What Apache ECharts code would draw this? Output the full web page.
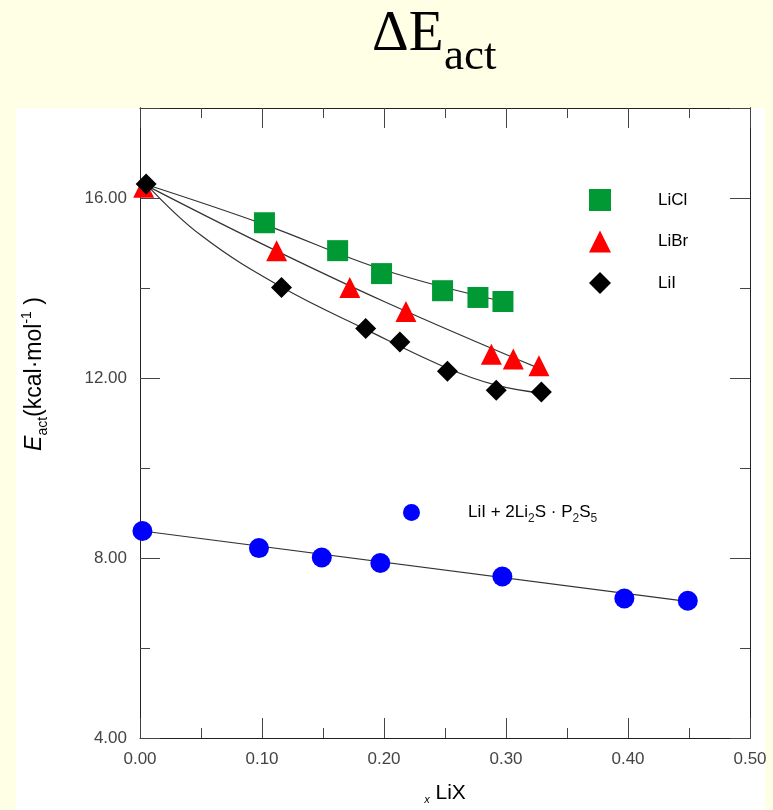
<!DOCTYPE html>
<html>
<head>
<meta charset="utf-8">
<script src="https://cdn.jsdelivr.net/npm/echarts@6/dist/echarts.min.js"></script>
<style>
  html, body { margin: 0; padding: 0; background: #FFFFE6; }
  #chart { width: 773px; height: 810px; }
</style>
</head>
<body>
<div id="chart"></div>
<script>
// measured points [x LiX, Eact kcal/mol]
const liclPoints = [[0.102, 15.45], [0.162, 14.83], [0.198, 14.32], [0.248, 13.94], [0.277, 13.79], [0.2975, 13.70]];
const librPoints = [[0.003, 16.24], [0.112, 14.83], [0.172, 14.01], [0.218, 13.48], [0.288, 12.53], [0.306, 12.42], [0.327, 12.27]];
const liiPoints = [[0.005, 16.31], [0.116, 14.01], [0.185, 13.10], [0.213, 12.80], [0.252, 12.15], [0.292, 11.73], [0.329, 11.69]];
const glassPoints = [[0.002, 8.60], [0.0975, 8.22], [0.149, 8.01], [0.197, 7.89], [0.297, 7.59], [0.397, 7.10], [0.449, 7.05]];

// fitted curves
const liclFit = [[0.005, 16.30], [0.10, 15.43], [0.20, 14.40], [0.2975, 13.70]];
const librFit = [[0.005, 16.28], [0.10, 14.98], [0.20, 13.70], [0.33, 12.18]];
const liiFit = [[0.005, 16.31], [0.05, 15.17], [0.116, 14.02], [0.185, 13.08], [0.25, 12.24], [0.292, 11.84], [0.33, 11.66]];
const glassFit = [[0.002, 8.60], [0.45, 7.03]];

const seriesNames = ['LiCl', 'LiBr', 'LiI', 'LiI + 2Li2S·P2S5'];
const seriesColors = ['#009933', '#FF0000', '#000000', '#0000FF'];
const seriesSymbols = ['rect', 'triangle', 'diamond', 'circle'];

const xTicks = { min: 0, max: 0.5, interval: 0.1 };
const yTicks = { min: 4, max: 18, minor: 2, major: 4 };

const chart = echarts.init(document.getElementById('chart'));

const axisColor = '#222';
const labelColor = '#444';
const sans = '"Liberation Sans", Arial, sans-serif';
const serif = '"Liberation Serif", "Times New Roman", serif';

function yAxisOf(position, interval, tickLen, showLabel) {
  return {
    type: 'value',
    position: position,
    min: yTicks.min,
    max: yTicks.max,
    interval: interval,
    splitLine: { show: false },
    axisLine: { show: true, lineStyle: { color: axisColor, width: 1 } },
    axisTick: { show: true, inside: true, length: tickLen, lineStyle: { color: '#444' } },
    axisLabel: {
      show: showLabel,
      margin: 13,
      color: labelColor,
      fontFamily: sans,
      fontSize: 17,
      formatter: function (v) { return (v % 4 === 0 && v < 18) ? v.toFixed(2) : ''; }
    }
  };
}

function xAxisOf(position, showLabel) {
  return {
    type: 'value',
    position: position,
    min: xTicks.min,
    max: xTicks.max,
    interval: xTicks.interval,
    splitLine: { show: false },
    axisLine: { show: true, lineStyle: { color: axisColor, width: 1 } },
    axisTick: { show: true, inside: true, length: 20, lineStyle: { color: '#444' } },
    minorTick: { show: true, splitNumber: 2, length: 10, lineStyle: { color: '#444' } },
    axisLabel: {
      show: showLabel,
      margin: 13,
      color: labelColor,
      fontFamily: sans,
      fontSize: 17,
      formatter: function (v) { return v.toFixed(2); }
    }
  };
}

const xBottom = xAxisOf('bottom', true);
xBottom.name = '{s|x}{t| LiX}';
xBottom.nameLocation = 'middle';
xBottom.nameGap = 43;
xBottom.nameTextStyle = {
  rich: {
    s: { fontFamily: sans, fontSize: 11, fontStyle: 'italic', color: '#000', verticalAlign: 'bottom', lineHeight: 24 },
    t: { fontFamily: sans, fontSize: 21, color: '#000', lineHeight: 24 }
  }
};

const fitLine = function (data) {
  return {
    type: 'line',
    data: data,
    smooth: 0.4,
    symbol: 'none',
    silent: true,
    z: 1,
    lineStyle: { color: '#333', width: 1.2 }
  };
};

const pointSeries = function (i, data, size) {
  return {
    name: seriesNames[i],
    type: 'scatter',
    data: data,
    symbol: seriesSymbols[i],
    symbolSize: size,
    itemStyle: { color: seriesColors[i], opacity: 1 },
    z: 3
  };
};

const richLegend = {
  g: { width: 42 },
  g2: { width: 43 },
  t: { fontFamily: sans, fontSize: 17, color: '#000', lineHeight: 24 },
  b: { fontFamily: sans, fontSize: 12, color: '#222', verticalAlign: 'bottom', lineHeight: 24 }
};

const option = {
  backgroundColor: '#FFFFE6',
  animation: false,
  grid: { left: 140, right: 23, top: 108, bottom: 68 },
  graphic: [
    { type: 'rect', z: -100, shape: { x: 16, y: 108, width: 749, height: 702 }, style: { fill: '#FFFFFF' } },
    { type: 'text', left: 372, top: 7, style: { text: 'ΔE', font: '57px ' + serif, fill: '#000' } },
    { type: 'text', left: 444, top: 35, style: { text: 'act', font: '45px ' + serif, fill: '#000' } },
    {
      type: 'text',
      x: 35,
      y: 374,
      rotation: Math.PI / 2,
      style: {
        text: '{e|E}{s|act}{t|(kcal·mol}{p|-1}{t| )}',
        align: 'center',
        verticalAlign: 'middle',
        rich: {
          e: { fontFamily: sans, fontSize: 23, fontStyle: 'italic', fill: '#000', lineHeight: 30 },
          s: { fontFamily: sans, fontSize: 14, fill: '#000', verticalAlign: 'bottom', lineHeight: 30 },
          t: { fontFamily: sans, fontSize: 23, fill: '#000', lineHeight: 30 },
          p: { fontFamily: sans, fontSize: 14, fill: '#000', verticalAlign: 'top', lineHeight: 20 }
        }
      }
    }
  ],
  legend: [
    {
      data: seriesNames.slice(0, 3),
      orient: 'vertical',
      left: 584,
      top: 184,
      itemWidth: 22,
      itemHeight: 22,
      itemGap: 19.5,
      selectedMode: false,
      formatter: function (name) { return '{g|}{t|' + name + '}'; },
      textStyle: { rich: richLegend }
    },
    {
      data: [seriesNames[3]],
      left: 398,
      top: 499,
      itemWidth: 17,
      itemHeight: 17,
      selectedMode: false,
      formatter: function () {
        return '{g2|}{t|LiI + 2Li}{b|2}{t|S · P}{b|2}{t|S}{b|5}';
      },
      textStyle: { rich: richLegend }
    }
  ],
  xAxis: [xBottom, xAxisOf('top', false)],
  yAxis: [
    yAxisOf('left', yTicks.minor, 10, true),
    yAxisOf('left', yTicks.major, 20, false),
    yAxisOf('right', yTicks.minor, 10, false),
    yAxisOf('right', yTicks.major, 20, false)
  ],
  series: [
    fitLine(liclFit),
    fitLine(librFit),
    fitLine(liiFit),
    fitLine(glassFit),
    pointSeries(0, liclPoints, 21),
    pointSeries(1, librPoints, 21),
    pointSeries(2, liiPoints, 21),
    pointSeries(3, glassPoints, 20)
  ]
};

chart.setOption(option);
</script>
</body>
</html>
